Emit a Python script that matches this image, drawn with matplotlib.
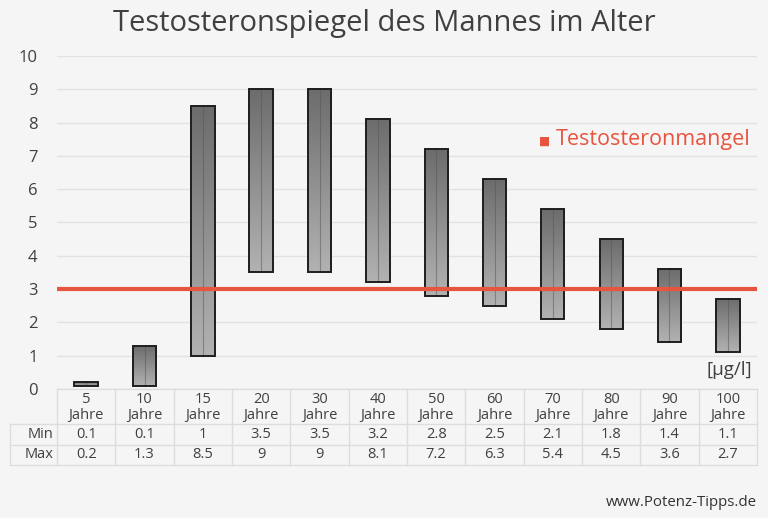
import numpy as np
import matplotlib
matplotlib.use("Agg")
import matplotlib.pyplot as plt
from matplotlib.colors import LinearSegmentedColormap

plt.rcParams['font.family'] = ['Open Sans', 'DejaVu Sans']

# data
alter = ["5", "10", "15", "20", "30", "40", "50", "60", "70", "80", "90", "100"]
min_werte = [0.1, 0.1, 1, 3.5, 3.5, 3.2, 2.8, 2.5, 2.1, 1.8, 1.4, 1.1]
max_werte = [0.2, 1.3, 8.5, 9, 9, 8.1, 7.2, 6.3, 5.4, 4.5, 3.6, 2.7]
grenzwert = 3

bg = '#f5f5f5'
rot = '#e8553e'
txt = '#404040'
rand = '#dddddd'

W, H = 768, 518
fig = plt.figure(figsize=(W / 100, H / 100), dpi=100, facecolor=bg)

x0, x1, y0, y1 = 57, 757, 389, 56
ax = fig.add_axes([x0 / W, 1 - y0 / H, (x1 - x0) / W, (y0 - y1) / H])
ax.set_facecolor(bg)
n = len(alter)
x = np.arange(n)
ax.set_yticks(range(11))
ax.yaxis.grid(True, color='#e2e2e2', lw=1)
ax.set_axisbelow(True)
ax.set_xticks([])
for s in ax.spines.values():
    s.set_visible(False)
ax.tick_params(axis='y', length=0, labelsize=12, labelcolor=txt, pad=14)

# balken mit verlauf
grad = np.linspace(0, 1, 256).reshape(-1, 1)
cmap = LinearSegmentedColormap.from_list('g', ['#b2b2b2', '#6c6c6c'])
breite = 0.4
bars = ax.bar(x, np.array(max_werte) - np.array(min_werte), bottom=min_werte,
              width=breite, facecolor='none', edgecolor='#1e1e1e', lw=1.4, zorder=3)
for b, lo, hi in zip(bars, min_werte, max_werte):
    bx = b.get_x()
    ax.imshow(grad, extent=[bx, bx + breite, lo, hi], origin='lower',
              cmap=cmap, aspect='auto', zorder=2)
    ax.plot([bx + breite / 2] * 2, [lo, hi], color='#555555', lw=0.8, alpha=0.5, zorder=2.5)
ax.set_xlim(-0.5, n - 0.5)
ax.set_ylim(0, 10)

ax.axhline(grenzwert, color=rot, lw=3, zorder=4)

fig.text(384 / W, 1 - 24 / H, "Testosteronspiegel des Mannes im Alter",
         ha='center', va='center', fontsize=21, color=txt)
fig.text(539 / W, 1 - 141 / H, "■", ha='left', va='center', fontsize=8.5, color=rot)
fig.text(556 / W, 1 - 140 / H, "Testosteronmangel", ha='left', va='center', fontsize=15.5, color=rot)
fig.text(729 / W, 1 - 370 / H, "[µg/l]", ha='center', va='center', fontsize=13.5, color=txt)
fig.text(757 / W, 1 - 503 / H, "www.Potenz-Tipps.de", ha='right', va='center', fontsize=10.8, color='#333333')

# tabelle
tab = fig.add_axes([0, 0, 1, 1], facecolor='none')
tab.set_xlim(0, W)
tab.set_ylim(H, 0)
tab.axis('off')
colw = (x1 - x0) / n
r0, r1, r2, r3 = 389, 424, 445, 465
tab.plot([x0, x1], [r0, r0], color=rand, lw=1)
for yy in (r1, r2, r3):
    tab.plot([10, x1], [yy, yy], color=rand, lw=1)
tab.plot([10, 10], [r1, r3], color=rand, lw=1)
for i in range(n + 1):
    xx = x0 + i * colw
    tab.plot([xx, xx], [r0, r3], color=rand, lw=1)
for i in range(n):
    cx = x0 + (i + 0.5) * colw
    tab.text(cx, (r0 + r1) / 2 + 1, alter[i] + "\nJahre", ha='center', va='center',
             fontsize=10.5, color=txt, linespacing=1.05)
    tab.text(cx, (r1 + r2) / 2, f"{min_werte[i]:g}", ha='center', va='center', fontsize=10.5, color=txt)
    tab.text(cx, (r2 + r3) / 2, f"{max_werte[i]:g}", ha='center', va='center', fontsize=10.5, color=txt)
tab.text(x0 - 4, (r1 + r2) / 2, "Min", ha='right', va='center', fontsize=10.5, color=txt)
tab.text(x0 - 4, (r2 + r3) / 2, "Max", ha='right', va='center', fontsize=10.5, color=txt)

fig.savefig("out.png", dpi=100, facecolor=bg)
